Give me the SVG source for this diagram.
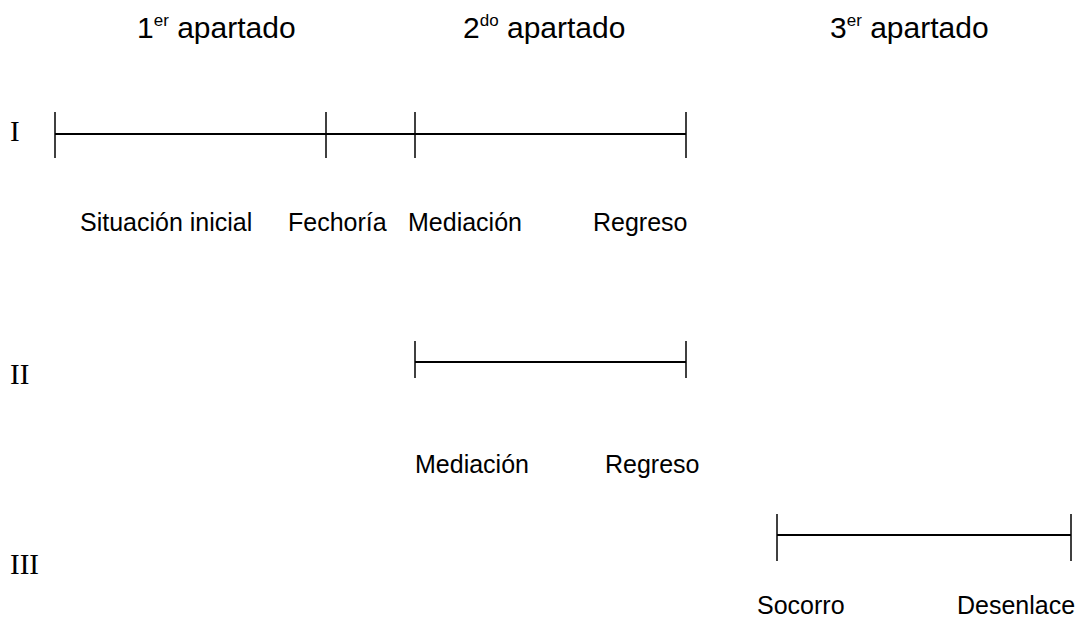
<svg xmlns="http://www.w3.org/2000/svg" width="1080" height="625" viewBox="0 0 1080 625">
<style>
.h{font-family:"Liberation Sans",Arial,sans-serif;font-size:30px;fill:#000}
.sup{font-size:17px}
.lb{font-family:"Liberation Sans",Arial,sans-serif;font-size:25px;fill:#000}
.rn{font-family:"Liberation Serif","Times New Roman",serif;font-size:29px;fill:#000}
.bar{stroke:#000;stroke-width:2;fill:none}
.tk{stroke:#000;stroke-width:1.5;fill:none}
</style>
<rect width="1080" height="625" fill="#fff"/>
<g id="headers">
<text class="h" x="137" y="38">1<tspan class="sup" dy="-12">er</tspan><tspan dy="12"> apartado</tspan></text>
<text class="h" x="463" y="38">2<tspan class="sup" dy="-12">do</tspan><tspan dy="12"> apartado</tspan></text>
<text class="h" x="830" y="38">3<tspan class="sup" dy="-12">er</tspan><tspan dy="12"> apartado</tspan></text>
</g>
<g id="row1">
<text class="rn" x="10" y="141">I</text>
<line class="bar" x1="55" y1="134" x2="686" y2="134"/>
<line class="tk" x1="55" y1="112" x2="55" y2="158"/>
<line class="tk" x1="326" y1="112" x2="326" y2="158"/>
<line class="tk" x1="415" y1="112" x2="415" y2="158"/>
<line class="tk" x1="686" y1="112" x2="686" y2="158"/>
<text class="lb" x="80" y="231">Situación inicial</text>
<text class="lb" x="288" y="231">Fechoría</text>
<text class="lb" x="408" y="231">Mediación</text>
<text class="lb" x="593" y="231">Regreso</text>
</g>
<g id="row2">
<text class="rn" x="10" y="384">II</text>
<line class="bar" x1="415" y1="362" x2="686" y2="362"/>
<line class="tk" x1="415" y1="341" x2="415" y2="378"/>
<line class="tk" x1="686" y1="341" x2="686" y2="378"/>
<text class="lb" x="415" y="473">Mediación</text>
<text class="lb" x="605" y="473">Regreso</text>
</g>
<g id="row3">
<text class="rn" x="10" y="574">III</text>
<line class="bar" x1="777" y1="535" x2="1071" y2="535"/>
<line class="tk" x1="777" y1="514" x2="777" y2="561"/>
<line class="tk" x1="1071" y1="514" x2="1071" y2="561"/>
<text class="lb" x="757" y="614">Socorro</text>
<text class="lb" x="957" y="614">Desenlace</text>
</g>
</svg>
